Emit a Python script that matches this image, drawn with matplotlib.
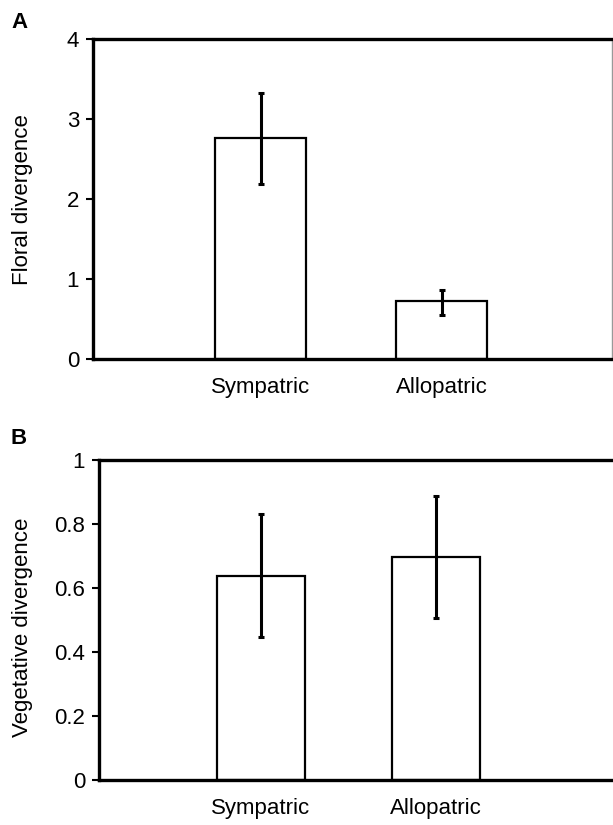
import matplotlib
matplotlib.use("Agg")
import matplotlib.pyplot as plt
import numpy as np

plt.rcParams['font.family'] = ['Liberation Sans', 'DejaVu Sans']

categories = ["Sympatric", "Allopatric"]

floral_mean = [2.76, 0.72]
floral_err_low = [2.19, 0.55]
floral_err_high = [3.33, 0.86]

veg_mean = [0.638, 0.697]
veg_err_low = [0.446, 0.505]
veg_err_high = [0.83, 0.887]

floral_ticks = [0, 1, 2, 3, 4]
veg_ticks = [0, 0.2, 0.4, 0.6, 0.8, 1]
veg_ticklabels = ["0", "0.2", "0.4", "0.6", "0.8", "1"]

fig = plt.figure(figsize=(6.13, 8.25), dpi=100)

W, H = 613, 825
def rect(l, r, t, b):
    return [l / W, (H - b) / H, (r - l) / W, (b - t) / H]

def panel(ax, means, lo, hi, ylim, ticks, ticklabels, ylabel, xlim, right_spine, label_y):
    x = np.arange(len(categories))
    means = np.array(means)
    yerr = [means - np.array(lo), np.array(hi) - means]
    ax.bar(x, means, width=0.5, color="white", edgecolor="black", linewidth=1.6, zorder=2)
    ax.errorbar(x, means, yerr=yerr, fmt="none", ecolor="black", elinewidth=2.2,
                capsize=2.5, capthick=2.2, zorder=3)
    ax.set_xlim(*xlim)
    ax.set_ylim(*ylim)
    ax.set_yticks(ticks)
    ax.set_yticklabels(ticklabels)
    ax.set_xticks(x)
    ax.set_xticklabels(categories)
    ax.tick_params(axis="y", direction="out", length=5, width=1.5, labelsize=16, pad=5)
    ax.tick_params(axis="x", length=0, labelsize=16, pad=13)
    ax.set_ylabel(ylabel, fontsize=16)
    ax.yaxis.set_label_coords(33 / W, 1 - label_y / H, transform=fig.transFigure)
    for s in ["left", "bottom", "top"]:
        ax.spines[s].set_linewidth(2.4)
    if right_spine:
        ax.spines["right"].set_linewidth(1.0)
        ax.spines["right"].set_color("#999999")
    else:
        ax.spines["right"].set_visible(False)

axA = fig.add_axes(rect(93, 612, 39, 359))
panel(axA, floral_mean, floral_err_low, floral_err_high, (0, 4), floral_ticks,
      [str(t) for t in floral_ticks], "Floral divergence", (-0.925, 1.94), True, 200)

axB = fig.add_axes(rect(99, 613, 460, 780))
panel(axB, veg_mean, veg_err_low, veg_err_high, (0, 1), veg_ticks,
      veg_ticklabels, "Vegetative divergence", (-0.925, 2.01), False, 627)

fig.text(11 / W, 1 - 22 / H, "A", fontsize=16, fontweight="bold", va="center", ha="left")
fig.text(11 / W, 1 - 438 / H, "B", fontsize=16, fontweight="bold", va="center", ha="left")

fig.savefig("out.png", dpi=100)
